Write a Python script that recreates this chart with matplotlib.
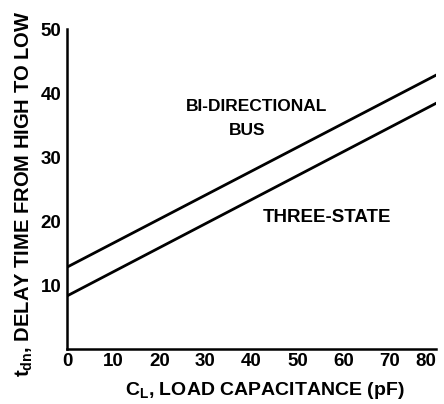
import numpy as np
import matplotlib
matplotlib.use("Agg")
import matplotlib.pyplot as plt

# load capacitance (pF) and delay (ns)
cap = [0, 80]
bidirectional = [12.8, 42.8]
three_state = [8.3, 38.4]

x_ticks = [0, 10, 20, 30, 40, 50, 60, 70, 80]
y_ticks = [10, 20, 30, 40, 50]

plt.rcParams['font.family'] = ['Liberation Sans', 'DejaVu Sans']
plt.rcParams['mathtext.fontset'] = 'custom'
plt.rcParams['mathtext.rm'] = 'Liberation Sans:bold'

fig = plt.figure(figsize=(4.44, 4.04), dpi=100)
ax = fig.add_axes([0.151, 0.136, 0.831, 0.792])

ax.plot(cap, bidirectional, color='black', linewidth=2.0)
ax.plot(cap, three_state, color='black', linewidth=2.0)

ax.set_xlim(0, 80)
ax.set_ylim(0, 50)
ax.set_xticks(x_ticks)
ax.set_yticks(y_ticks)
ax.tick_params(length=0, labelsize=13.5)
ax.tick_params(axis='x', pad=3)
ax.tick_params(axis='y', pad=4)
for lbl in ax.get_xticklabels() + ax.get_yticklabels():
    lbl.set_fontweight('bold')
ax.get_xticklabels()[-1].set_horizontalalignment('right')

ax.spines['top'].set_visible(False)
ax.spines['right'].set_visible(False)
ax.spines['left'].set_linewidth(1.8)
ax.spines['bottom'].set_linewidth(1.8)

ax.text(41.2, 37.9, 'BI-DIRECTIONAL', ha='center', va='center',
        fontsize=12.5, fontweight='bold')
ax.text(39.0, 34.2, 'BUS', ha='center', va='center',
        fontsize=12.5, fontweight='bold')
ax.text(56.4, 20.6, 'THREE-STATE', ha='center', va='center',
        fontsize=13.5, fontweight='bold')

ax.set_xlabel(r'$\mathregular{C_L}$, LOAD CAPACITANCE (pF)', fontsize=14,
              fontweight='bold')
ax.set_ylabel(r'$\mathregular{t_{dn}}$, DELAY TIME FROM HIGH TO LOW', fontsize=14.5,
              fontweight='bold')
ax.xaxis.set_label_coords(0.537, -0.098)
ax.yaxis.set_label_coords(-0.087, 0.486)

fig.savefig('out.png', dpi=100)
